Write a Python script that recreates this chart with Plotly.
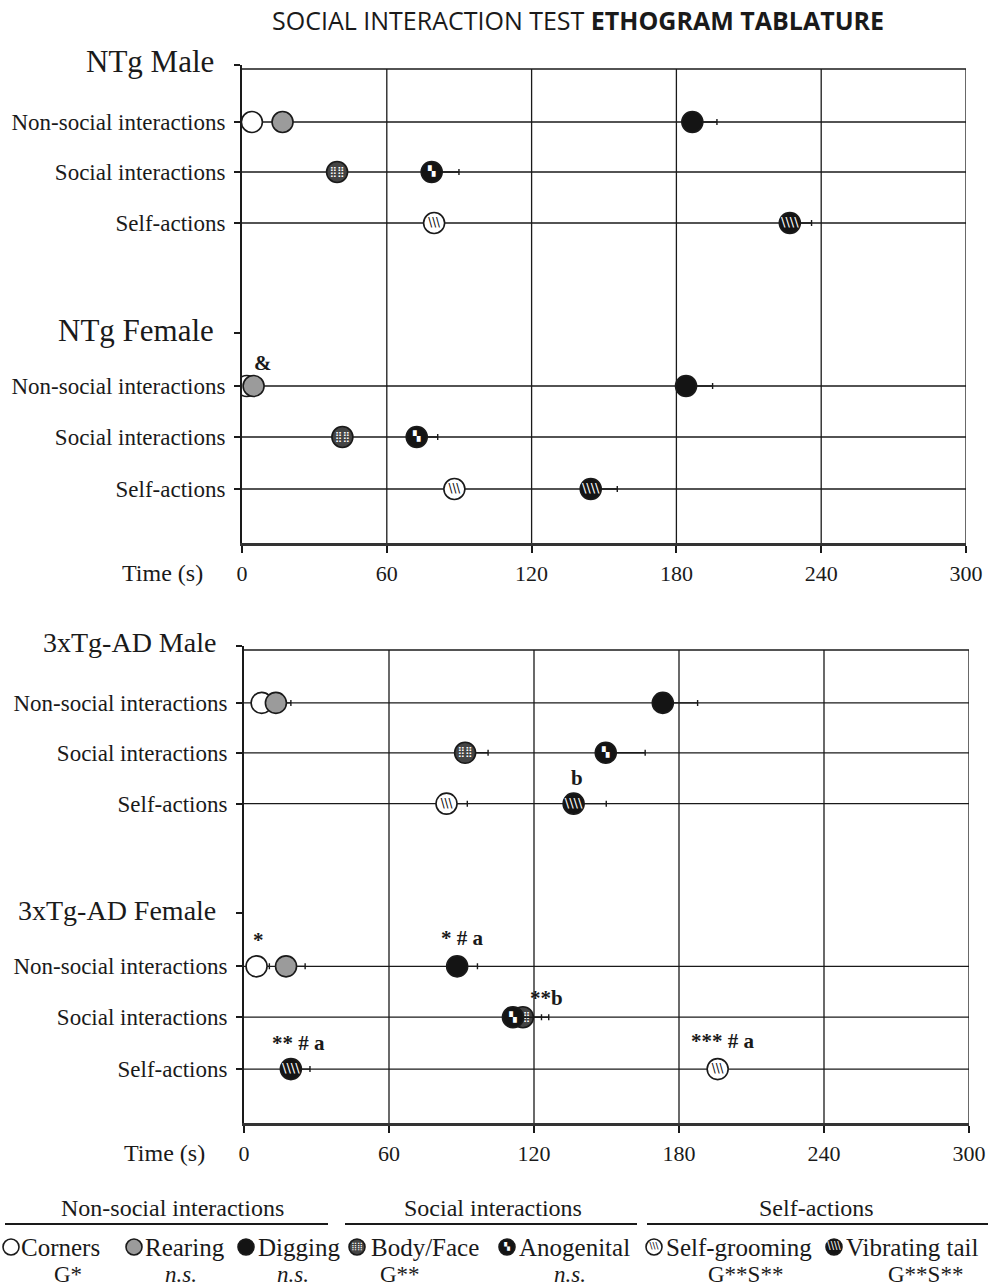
import plotly.graph_objects as go

# ---------------- data ----------------
behaviors = ["Corners", "Rearing", "Digging", "Body/Face", "Anogenital",
             "Self-grooming", "Vibrating tail"]
behavior_category = ["Non-social interactions", "Non-social interactions", "Non-social interactions",
                     "Social interactions", "Social interactions",
                     "Self-actions", "Self-actions"]
category_labels = ["Non-social interactions", "Social interactions", "Self-actions"]
group_labels = ["NTg Male", "NTg Female", "3xTg-AD Male", "3xTg-AD Female"]

# mean time (s) and error, order = group_labels
corners_mean = [4.1, 2.0, 7.3, 5.2]
corners_err = [1.5, 1.0, 2.0, 5.3]
rearing_mean = [16.8, 4.8, 13.2, 17.4]
rearing_err = [2.0, 1.5, 6.2, 7.9]
digging_mean = [186.6, 184.0, 173.3, 88.2]
digging_err = [10.2, 11.0, 14.4, 8.4]
bodyface_mean = [39.4, 41.6, 91.5, 115.4]
bodyface_err = [2.5, 2.5, 9.5, 10.7]
anogenital_mean = [78.6, 72.4, 149.7, 111.3]
anogenital_err = [11.3, 8.7, 16.3, 11.8]
selfgroom_mean = [79.6, 88.0, 83.8, 196.0]
selfgroom_err = [3.0, 3.0, 8.6, 3.0]
vibtail_mean = [227.0, 144.5, 136.4, 19.4]
vibtail_err = [9.0, 11.0, 13.5, 7.9]

behavior_stats = ["G*", "<i>n.s.</i>", "<i>n.s.</i>", "G**", "<i>n.s.</i>", "G**S**", "G**S**"]

# significance marks: (group, behavior, text)
sig_marks = [
    ("NTg Female", "Rearing", "&"),
    ("3xTg-AD Male", "Vibrating tail", "b"),
    ("3xTg-AD Female", "Corners", "*"),
    ("3xTg-AD Female", "Digging", "* # a"),
    ("3xTg-AD Female", "Body/Face", "**b"),
    ("3xTg-AD Female", "Vibrating tail", "** # a"),
    ("3xTg-AD Female", "Self-grooming", "*** # a"),
]

x_ticks = [0, 60, 120, 180, 240, 300]
x_title = "Time (s)"
chart_title = "SOCIAL INTERACTION TEST <b>ETHOGRAM TABLATURE</b>"

means = dict(zip(behaviors, [corners_mean, rearing_mean, digging_mean, bodyface_mean,
                             anogenital_mean, selfgroom_mean, vibtail_mean]))
errs = dict(zip(behaviors, [corners_err, rearing_err, digging_err, bodyface_err,
                            anogenital_err, selfgroom_err, vibtail_err]))

# ---------------- layout / style ----------------
W, H = 991, 1287
SERIF = "Liberation Serif"
INK = "#1a1a1a"

Y_BOTTOM = 478
BORDER_Y = 4
TITLE_Y = [0, 268]                      # male / female heading tick within a panel
ROW_Y = [[57, 107, 158], [321, 372, 424]]

panels = [
    dict(xa="x", ya="y", groups=[0, 1], px=(242, 966), py=(65, 543), title_size=31),
    dict(xa="x2", ya="y2", groups=[2, 3], px=(244, 969), py=(646, 1123), title_size=28),
]

BASE = {
    "Corners": "white",
    "Rearing": "#9b9b9b",
    "Digging": "#141414",
    "Body/Face": "#444444",
    "Anogenital": "#141414",
    "Self-grooming": "white",
    "Vibrating tail": "#141414",
}
# glyph overlays that mimic the pattern fills
OVERLAY = {
    "Body/Face": ("⣿⣿", "white", 0.50),
    "Anogenital": ("▚", "white", 0.46),
    "Self-grooming": ("\\\\\\", "black", 0.55),
    "Vibrating tail": ("\\\\\\\\", "white", 0.62),
}
SIG_SHIFT = {
    "&": (9, 23), "b": (3, 26), "*": (2, 26), "* # a": (5, 28),
    "**b": (24, 19), "** # a": (8, 26), "*** # a": (5, 28),
}

MSIZE = 21
fig = go.Figure()


def add_points(fig, xa, ya, xs, ys, beh, size, err=None):
    errd = None
    if err is not None:
        errd = dict(type="data", array=err, arrayminus=[0] * len(err), symmetric=False,
                    color=INK, thickness=1.4, width=3)
    fig.add_trace(go.Scatter(
        x=xs, y=ys, xaxis=xa, yaxis=ya, mode="markers", showlegend=False,
        name=beh, hoverinfo="x+name",
        marker=dict(symbol="circle", size=size, color=BASE[beh],
                    line=dict(color=INK, width=1.6)),
        error_x=errd))
    if beh in OVERLAY:
        glyph, col, frac = OVERLAY[beh]
        fig.add_trace(go.Scatter(
            x=xs, y=ys, xaxis=xa, yaxis=ya, mode="text", showlegend=False,
            hoverinfo="skip", text=[glyph] * len(xs), textposition="middle center",
            textfont=dict(family="DejaVu Sans", size=size * frac, color=col)))


shapes = []
annotations = []
for pi, p in enumerate(panels):
    ya_name = "yaxis" if pi == 0 else "yaxis2"
    xa_name = "xaxis" if pi == 0 else "xaxis2"
    xref, yref = p["xa"], p["ya"]
    tickvals, ticktext = [], []
    for gi_local, g in enumerate(p["groups"]):
        tickvals.append(TITLE_Y[gi_local]); ticktext.append("")
        for ci, cat in enumerate(category_labels):
            tickvals.append(ROW_Y[gi_local][ci]); ticktext.append(cat)
            shapes.append(dict(type="line", xref=xref, yref=yref, x0=x_ticks[0], x1=x_ticks[-1],
                               y0=ROW_Y[gi_local][ci], y1=ROW_Y[gi_local][ci],
                               line=dict(color=INK, width=1.3), layer="below"))
        annotations.append(dict(xref="paper", yref=yref, x=(p["px"][0] - 26) / W, y=TITLE_Y[gi_local],
                                xanchor="right", yanchor="middle", showarrow=False,
                                text=group_labels[g], yshift=3,
                                font=dict(family=SERIF, size=p["title_size"], color=INK)))
    # frame + vertical grid
    for xv in x_ticks[1:]:
        shapes.append(dict(type="line", xref=xref, yref=yref, x0=xv, x1=xv, y0=BORDER_Y, y1=Y_BOTTOM,
                           line=dict(color=INK, width=1.3), layer="below"))
    shapes.append(dict(type="line", xref=xref, yref=yref, x0=x_ticks[0], x1=x_ticks[-1],
                       y0=BORDER_Y, y1=BORDER_Y, line=dict(color=INK, width=1.5), layer="below"))

    fig.update_layout(**{
        xa_name: dict(domain=[p["px"][0] / W, p["px"][1] / W], range=[x_ticks[0], x_ticks[-1]],
                      anchor=yref, tickvals=x_ticks, ticks="outside", ticklen=7, tickwidth=1.5,
                      tickcolor=INK, showline=True, linewidth=2.5, linecolor="#333",
                      showgrid=False, zeroline=False, ticklabelstandoff=2, automargin=False,
                      tickfont=dict(family=SERIF, size=22, color=INK), fixedrange=True),
        ya_name: dict(domain=[1 - p["py"][1] / H, 1 - p["py"][0] / H], range=[Y_BOTTOM, 0],
                      anchor=xref, tickvals=tickvals, ticktext=ticktext, ticks="outside",
                      ticklen=6, tickwidth=1.5, tickcolor=INK, showline=True, linewidth=2,
                      linecolor=INK, showgrid=False, zeroline=False, ticklabelstandoff=4,
                      automargin=False,
                      tickfont=dict(family=SERIF, size=23, color=INK), fixedrange=True),
    })

    for bi, beh in enumerate(behaviors):
        ci = category_labels.index(behavior_category[bi])
        xs = [means[beh][g] for g in p["groups"]]
        ys = [ROW_Y[k][ci] for k in range(len(p["groups"]))]
        er = [errs[beh][g] for g in p["groups"]]
        add_points(fig, xref, yref, xs, ys, beh, MSIZE, er)

    # significance marks
    for gname, beh, txt in sig_marks:
        g = group_labels.index(gname)
        if g not in p["groups"]:
            continue
        k = p["groups"].index(g)
        ci = category_labels.index(behavior_category[behaviors.index(beh)])
        dx, dy = SIG_SHIFT[txt]
        annotations.append(dict(xref=xref, yref=yref, x=means[beh][g], y=ROW_Y[k][ci],
                                xshift=dx, yshift=dy, showarrow=False, text="<b>" + txt + "</b>",
                                font=dict(family=SERIF, size=21, color=INK)))

    # axis title
    annotations.append(dict(xref="paper", yref="paper", x=(p["px"][0] - 37) / W,
                            y=1 - (p["py"][1] + 30) / H, xanchor="right", yanchor="middle",
                            showarrow=False, text=x_title,
                            font=dict(family=SERIF, size=24, color=INK)))

# ---------------- custom legend (bottom strip) ----------------
LEG_TOP, LEG_H = 1190, 97
fig.update_layout(
    xaxis3=dict(domain=[0, 1], range=[0, W], visible=False, anchor="y3", fixedrange=True,
                automargin=False),
    yaxis3=dict(domain=[0, LEG_H / H], range=[LEG_H, 0], visible=False, anchor="x3",
                fixedrange=True, automargin=False),
)
legend_groups = [("Non-social interactions", 172, (5, 328)),
                 ("Social interactions", 493, (345, 637)),
                 ("Self-actions", 816, (647, 988))]
for txt, cx, (u0, u1) in legend_groups:
    annotations.append(dict(xref="x3", yref="y3", x=cx, y=18, showarrow=False, text=txt,
                            font=dict(family=SERIF, size=24, color=INK)))
    shapes.append(dict(type="line", xref="x3", yref="y3", x0=u0, x1=u1, y0=34, y1=34,
                       line=dict(color=INK, width=2.2)))
ICON_X = [11, 134, 246, 357, 507, 654, 834]
TEXT_X = [19, 143, 256, 369, 517, 664, 844]
STAT_X = [68, 181, 293, 400, 570, 745, 925]
for bi, beh in enumerate(behaviors):
    add_points(fig, "x3", "y3", [ICON_X[bi]], [57], beh, 16)
    annotations.append(dict(xref="x3", yref="y3", x=TEXT_X[bi], y=57, xanchor="left",
                            showarrow=False, text=beh,
                            font=dict(family=SERIF, size=25, color=INK)))
    annotations.append(dict(xref="x3", yref="y3", x=STAT_X[bi], y=84, showarrow=False,
                            text=behavior_stats[bi],
                            font=dict(family=SERIF, size=23, color=INK)))

annotations.append(dict(xref="paper", yref="paper", x=578 / W, y=1 - 20 / H, showarrow=False,
                        xanchor="center", yanchor="middle",
                        text=chart_title, font=dict(family="Open Sans", size=25, color=INK)))

fig.update_layout(template="none", width=W, height=H, margin=dict(l=0, r=0, t=0, b=0),
                  autosize=False, paper_bgcolor="white", plot_bgcolor="white",
                  shapes=shapes, annotations=annotations, showlegend=False,
                  font=dict(family=SERIF, color=INK))

fig.write_html("out.html", config={"displayModeBar": False},
               post_script="document.body.style.margin='0';document.body.style.overflow='hidden';")
